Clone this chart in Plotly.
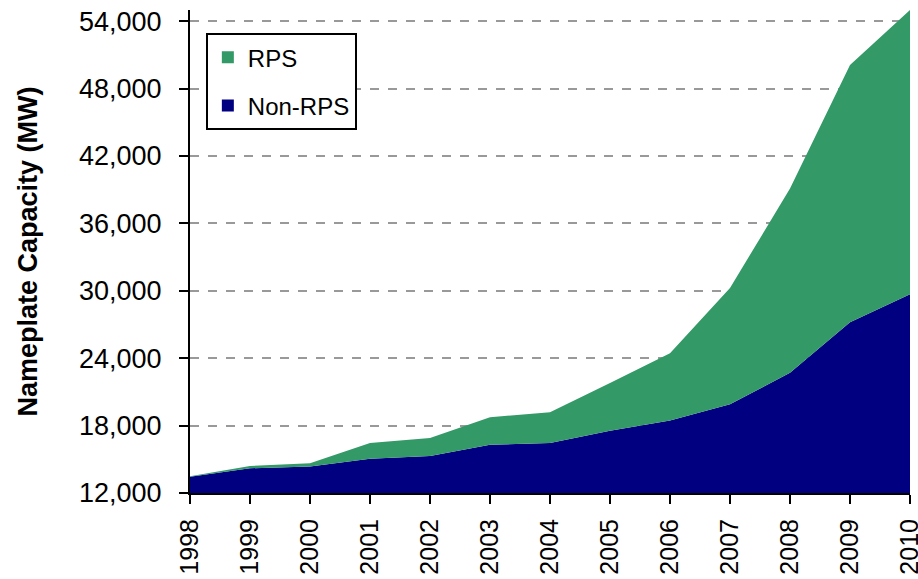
import plotly.graph_objects as go

years = [1998, 1999, 2000, 2001, 2002, 2003, 2004, 2005, 2006, 2007, 2008, 2009, 2010]
non_rps = [13450, 14200, 14350, 15050, 15300, 16300, 16450, 17550, 18450, 19900, 22700, 27200, 29700]
total = [13500, 14400, 14650, 16450, 16900, 18750, 19200, 21800, 24450, 30250, 39100, 50100, 55000]
rps = [t - n for t, n in zip(total, non_rps)]
y_ticks = [12000, 18000, 24000, 30000, 36000, 42000, 48000, 54000]

GREEN = "#339966"
NAVY = "#000080"
FONT = "Liberation Sans, Arial, sans-serif"

fig = go.Figure()
fig.add_trace(go.Scatter(x=years, y=non_rps, name="Non-RPS", stackgroup="one",
                         mode="none", fillcolor=NAVY, showlegend=False))
fig.add_trace(go.Scatter(x=years, y=rps, name="RPS", stackgroup="one",
                         mode="none", fillcolor=GREEN, showlegend=False))
# legend entries
fig.add_trace(go.Scatter(x=[None], y=[None], name="RPS", mode="markers",
                         marker=dict(symbol="square", size=12, color=GREEN),
                         legendgroup="a"))
fig.add_trace(go.Scatter(x=[None], y=[None], name="Non-RPS", mode="markers",
                         marker=dict(symbol="square", size=12, color=NAVY),
                         legendgroup="b"))

fig.update_layout(
    width=918, height=579,
    margin=dict(l=190, r=8, t=10, b=86),
    paper_bgcolor="white", plot_bgcolor="white",
    font=dict(family=FONT, size=27, color="black"),
    legend=dict(x=0.022, y=0.952, xanchor="left", yanchor="top",
                bordercolor="black", borderwidth=2, bgcolor="white",
                font=dict(size=24), tracegroupgap=14, itemwidth=30),
)
fig.update_xaxes(range=[1998, 2010], tickmode="array", tickvals=years,
                 ticktext=[str(y) for y in years], tickangle=-90,
                 tickfont=dict(size=25), ticklabelstandoff=5,
                 showline=True, linecolor="black", linewidth=2,
                 ticks="outside", ticklen=9, tickwidth=2, tickcolor="black",
                 showgrid=False, zeroline=False, automargin=False,
                 ticklabeloverflow="allow")
fig.update_yaxes(range=[12000, 55000], tickmode="array", tickvals=y_ticks,
                 tickformat=",", showline=True, linecolor="black", linewidth=2,
                 ticks="outside", ticklen=9, tickwidth=2, tickcolor="black",
                 ticklabelstandoff=12,
                 showgrid=True, gridcolor="#999999", griddash="dash", gridwidth=1.5,
                 zeroline=False, automargin=False,
                 title=dict(text="<b>Nameplate Capacity (MW)</b>", font=dict(size=27),
                            standoff=34))

fig.write_html("out.html", config={"displayModeBar": False},
               post_script="document.body.style.margin='0';document.body.style.overflow='hidden';")
